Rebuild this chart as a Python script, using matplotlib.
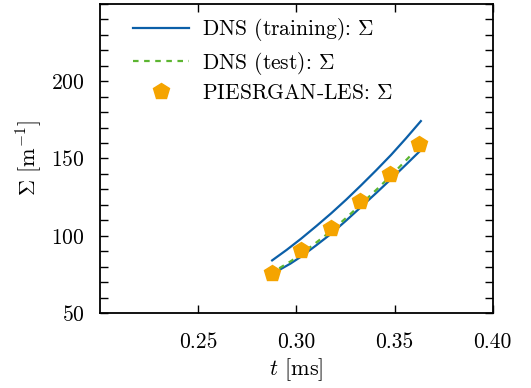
import matplotlib
matplotlib.use("Agg")
import matplotlib.pyplot as plt
from matplotlib.ticker import MultipleLocator

plt.rcParams['font.family'] = 'serif'
plt.rcParams['font.serif'] = ['cmr10', 'DejaVu Serif']
plt.rcParams['mathtext.fontset'] = 'cm'
plt.rcParams['axes.unicode_minus'] = False
plt.rcParams['axes.formatter.use_mathtext'] = True

# Data
t_train_a = [0.2877, 0.2951, 0.3025, 0.3101, 0.3178, 0.3254, 0.333, 0.3406, 0.3483, 0.3558, 0.3634]
sigma_train_a = [84.1, 90.9, 98.2, 106.2, 114.6, 123.4, 132.7, 142.3, 152.4, 163.0, 174.2]
t_train_b = [0.291, 0.297, 0.3025, 0.3101, 0.3178, 0.3254, 0.333, 0.3406, 0.3483, 0.3558, 0.3634]
sigma_train_b = [77.7, 82.0, 86.6, 93.8, 101.4, 109.9, 118.7, 127.6, 136.8, 146.0, 155.4]
t_test = [0.2913, 0.297, 0.3025, 0.3101, 0.3178, 0.3254, 0.333, 0.3406, 0.3483, 0.3535, 0.359]
sigma_test = [79.0, 83.4, 88.2, 95.6, 103.2, 111.6, 120.5, 129.6, 139.0, 145.8, 153.0]
t_les = [0.2875, 0.3025, 0.3175, 0.3325, 0.3475, 0.3625]
sigma_les = [76.2, 90.7, 104.8, 122.5, 139.8, 159.3]

x_ticks = [0.25, 0.30, 0.35, 0.40]
y_ticks = [50, 100, 150, 200]

blue = '#0b5fa8'
green = '#5cb531'
orange = '#f5a400'

fig = plt.figure(figsize=(5.31, 3.88), dpi=100)
ax = fig.add_axes([0.188, 0.193, 0.740, 0.797])

ax.plot(t_train_a, sigma_train_a, color=blue, lw=1.6, solid_joinstyle='round',
        label=r'DNS (training): $\Sigma$')
ax.plot(t_train_b, sigma_train_b, color=blue, lw=1.6, solid_joinstyle='round')
ax.plot(t_test, sigma_test, color=green, lw=1.6, ls=(0, (2.5, 2.5)), label=r'DNS (test): $\Sigma$')
ax.plot(t_les, sigma_les, ls='none', marker='p', ms=12, color=orange, label=r'PIESRGAN-LES: $\Sigma$')

ax.set_xlim(0.2, 0.4)
ax.set_ylim(50, 250)
ax.set_xticks(x_ticks)
ax.set_xticklabels(['0.25', '0.30', '0.35', '0.40'])
ax.set_yticks(y_ticks)
ax.yaxis.set_minor_locator(MultipleLocator(10))
ax.tick_params(which='both', direction='in', top=True, right=True, labelsize=15.5, length=6, width=1.0)
ax.tick_params(axis='x', pad=14)
ax.tick_params(axis='y', pad=11)
for s in ax.spines.values():
    s.set_linewidth(1.3)

ax.set_xlabel(r'$t$ [ms]', fontsize=16, labelpad=3)
ax.set_ylabel(r'$\Sigma$ [m$^{-1}$]', fontsize=16, labelpad=5)

leg = ax.legend(loc='upper left', frameon=False, fontsize=15.5, handlelength=2.6,
                bbox_to_anchor=(0.035, 1.023), labelspacing=0.3, handletextpad=0.6)

fig.savefig('out.png', dpi=100)
